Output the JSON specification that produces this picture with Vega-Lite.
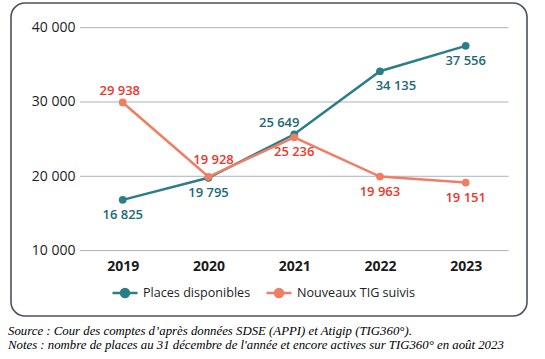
{
  "$schema": "https://vega.github.io/schema/vega-lite/v6.json",
  "width": 516,
  "height": 313,
  "autosize": "none",
  "padding": {"left": 11, "top": 3, "right": 18, "bottom": 43},
  "background": "white",
  "config": {
    "font": "Open Sans",
    "locale": {"number": {"decimal": ",", "thousands": " ", "grouping": [3], "currency": ["", " €"]}},
    "view": {"stroke": "#4b5160", "strokeWidth": 1.6, "cornerRadius": 14, "fill": "white"}
  },
  "title": {
    "text": ["Source : Cour des comptes d’après données SDSE (APPI) et Atigip (TIG360°).", "Notes : nombre de places au 31 décembre de l'année et encore actives sur TIG360° en août 2023"],
    "orient": "bottom",
    "anchor": "start",
    "frame": "group",
    "font": "Liberation Serif",
    "fontStyle": "italic",
    "fontWeight": "normal",
    "fontSize": 12.8,
    "lineHeight": 14,
    "color": "#000000",
    "offset": 9,
    "dx": -3
  },
  "datasets": {
    "series": [
      {"year": 2019, "series": "Places disponibles", "value": 16825},
      {"year": 2020, "series": "Places disponibles", "value": 19795},
      {"year": 2021, "series": "Places disponibles", "value": 25649},
      {"year": 2022, "series": "Places disponibles", "value": 34135},
      {"year": 2023, "series": "Places disponibles", "value": 37556},
      {"year": 2019, "series": "Nouveaux TIG suivis", "value": 29938},
      {"year": 2020, "series": "Nouveaux TIG suivis", "value": 19928},
      {"year": 2021, "series": "Nouveaux TIG suivis", "value": 25236},
      {"year": 2022, "series": "Nouveaux TIG suivis", "value": 19963},
      {"year": 2023, "series": "Nouveaux TIG suivis", "value": 19151}
    ],
    "grid": [{"v": 10000}, {"v": 20000}, {"v": 30000}, {"v": 40000}]
  },
  "layer": [
    {
      "data": {"name": "grid"},
      "mark": {"type": "rule", "color": "#aab1bf", "strokeWidth": 1},
      "encoding": {
        "y": {"field": "v", "type": "quantitative", "scale": {"domain": [1196, 43320], "nice": false, "zero": false},
          "axis": {"orient": "left", "values": [10000, 20000, 30000, 40000], "format": ",d", "offset": -69, "labelPadding": 5, "ticks": false, "tickSize": 0, "domain": false, "grid": false, "title": null, "labelFontSize": 14, "labelColor": "#222222", "labelFont": "Open Sans"}},
        "x": {"datum": 2018.5, "type": "quantitative"},
        "x2": {"datum": 2023.5}
      }
    },
    {
      "data": {"name": "series"},
      "mark": {"type": "line", "strokeWidth": 2.5, "point": {"filled": true, "size": 60}},
      "encoding": {
        "x": {"field": "year", "type": "quantitative", "scale": {"domain": [2017.697, 2023.715], "nice": false, "zero": false},
          "axis": {"values": [2019, 2020, 2021, 2022, 2023], "format": "d", "offset": -50, "labelPadding": 0, "labelBaseline": "middle", "ticks": false, "tickSize": 0, "domain": false, "grid": false, "title": null, "labelFontSize": 14, "labelFontWeight": "bold", "labelColor": "#1a1a1a", "labelFont": "Open Sans"}},
        "y": {"field": "value", "type": "quantitative",
          "axis": {"orient": "left", "values": [10000, 20000, 30000, 40000], "format": ",d", "offset": -69, "labelPadding": 5, "ticks": false, "tickSize": 0, "domain": false, "grid": false, "title": null, "labelFontSize": 14, "labelColor": "#222222", "labelFont": "Open Sans"}},
        "color": {"field": "series", "type": "nominal",
          "scale": {"domain": ["Places disponibles", "Nouveaux TIG suivis"], "range": ["#2b7e85", "#ef7e65"]},
          "legend": {"title": null, "orient": "none", "direction": "horizontal", "legendX": 100, "legendY": 276,
            "symbolType": "M-1,0L1,0M-0.32,0A0.32,0.32,0,1,1,0.32,0A0.32,0.32,0,1,1,-0.32,0Z",
            "symbolSize": 625, "symbolStrokeWidth": 2.5, "labelFontSize": 12.6, "labelColor": "#222222", "labelFont": "Open Sans", "labelOffset": 4, "columnPadding": 10,
            "encode": {"symbols": {"update": {"fill": {"scale": "color", "field": "value"}}}}}}
      }
    },
    {
      "data": {"name": "series"},
      "transform": [{"filter": "(datum.series === 'Places disponibles' && (datum.year === 2019 || datum.year === 2020 || datum.year === 2023)) || (datum.series === 'Nouveaux TIG suivis' && datum.year >= 2021)"}],
      "mark": {"type": "text", "dy": 15, "fontSize": 13, "fontWeight": 600, "font": "Open Sans", "baseline": "middle"},
      "encoding": {
        "x": {"field": "year", "type": "quantitative"},
        "y": {"field": "value", "type": "quantitative"},
        "text": {"field": "value", "type": "quantitative", "format": ","},
        "color": {"condition": {"test": "datum.series === 'Places disponibles'", "value": "#1d6a72"}, "value": "#e8392d"}
      }
    },
    {
      "data": {"name": "series"},
      "transform": [{"filter": "datum.series === 'Places disponibles' && datum.year === 2021"}],
      "mark": {"type": "text", "dy": -11, "dx": -15, "fontSize": 13, "fontWeight": 600, "font": "Open Sans", "baseline": "middle", "color": "#1d6a72"},
      "encoding": {
        "x": {"field": "year", "type": "quantitative"},
        "y": {"field": "value", "type": "quantitative"},
        "text": {"field": "value", "type": "quantitative", "format": ","}
      }
    },
    {
      "data": {"name": "series"},
      "transform": [{"filter": "datum.series === 'Places disponibles' && datum.year === 2022"}],
      "mark": {"type": "text", "dy": 15, "dx": 16, "fontSize": 13, "fontWeight": 600, "font": "Open Sans", "baseline": "middle", "color": "#1d6a72"},
      "encoding": {
        "x": {"field": "year", "type": "quantitative"},
        "y": {"field": "value", "type": "quantitative"},
        "text": {"field": "value", "type": "quantitative", "format": ","}
      }
    },
    {
      "data": {"name": "series"},
      "transform": [{"filter": "datum.series === 'Nouveaux TIG suivis' && datum.year === 2019"}],
      "mark": {"type": "text", "dy": -11, "dx": -3, "fontSize": 13, "fontWeight": 600, "font": "Open Sans", "baseline": "middle", "color": "#e8392d"},
      "encoding": {
        "x": {"field": "year", "type": "quantitative"},
        "y": {"field": "value", "type": "quantitative"},
        "text": {"field": "value", "type": "quantitative", "format": ","}
      }
    },
    {
      "data": {"name": "series"},
      "transform": [{"filter": "datum.series === 'Nouveaux TIG suivis' && datum.year === 2020"}],
      "mark": {"type": "text", "dy": -17, "dx": 5, "fontSize": 13, "fontWeight": 600, "font": "Open Sans", "baseline": "middle", "color": "#e8392d"},
      "encoding": {
        "x": {"field": "year", "type": "quantitative"},
        "y": {"field": "value", "type": "quantitative"},
        "text": {"field": "value", "type": "quantitative", "format": ","}
      }
    }
  ]
}
